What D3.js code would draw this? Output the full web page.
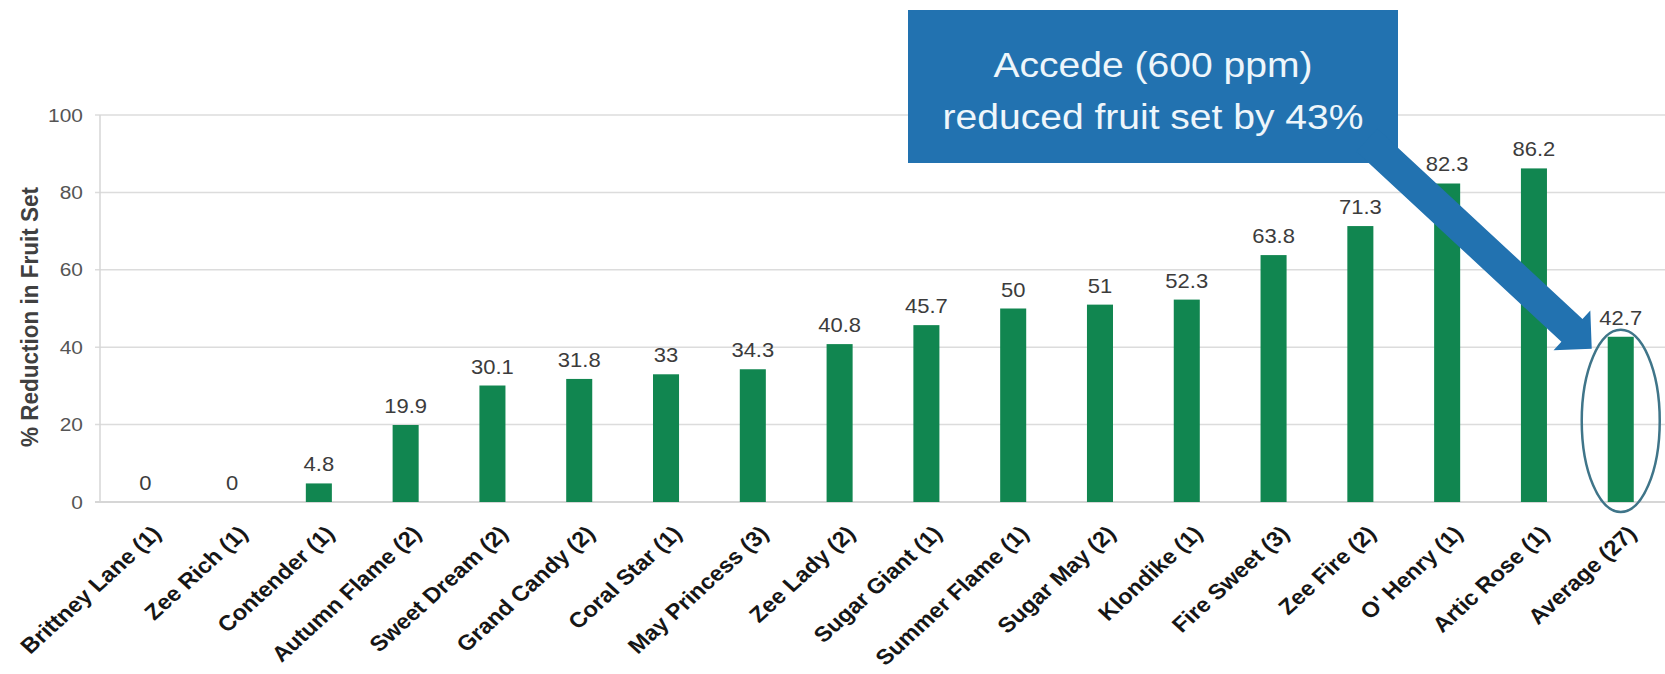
<!DOCTYPE html>
<html>
<head>
<meta charset="utf-8">
<script src="https://cdn.jsdelivr.net/npm/d3@7"></script>
<style>
  html, body { margin: 0; padding: 0; background: #fff; }
  svg { display: block; font-family: "Liberation Sans", Arial, sans-serif; }
</style>
</head>
<body>
<svg id="chart" width="1665" height="674"></svg>
<script>
const varieties = ['Brittney Lane (1)', 'Zee Rich (1)', 'Contender (1)', 'Autumn Flame (2)',
    'Sweet Dream (2)', 'Grand Candy (2)', 'Coral Star (1)', 'May Princess (3)', 'Zee Lady (2)',
    'Sugar Giant (1)', 'Summer Flame (1)', 'Sugar May (2)', 'Klondike (1)', 'Fire Sweet (3)',
    'Zee Fire (2)', "O' Henry (1)", 'Artic Rose (1)', 'Average (27)'];
const reduction = [0, 0, 4.8, 19.9, 30.1, 31.8, 33, 34.3, 40.8, 45.7, 50, 51, 52.3, 63.8, 71.3, 82.3, 86.2, 42.7];
const yTicks = [0, 20, 40, 60, 80, 100];
const yTitle = '% Reduction in Fruit Set';
const noteLines = ['Accede (600 ppm)', 'reduced fruit set by 43%'];

const svg = d3.select('#chart');
const W = 1665;
const SX = 1.1; // the source picture is a bit wider than tall, text looks stretched

const x = d3.scaleBand().domain(varieties).range([101, W]).paddingInner(0.7).paddingOuter(0.36);
const y = d3.scaleLinear().domain([0, 100]).range([502, 115]);

// gridlines + ticks
svg.append('g')
    .selectAll('line')
    .data(yTicks)
    .join('line')
    .attr('x1', 95).attr('x2', W)
    .attr('y1', d => y(d)).attr('y2', d => y(d))
    .attr('stroke', d => d === 0 ? '#c8c8c8' : '#dcdcdc')
    .attr('stroke-width', 1.5);

svg.append('line')
    .attr('x1', 100).attr('x2', 100)
    .attr('y1', y(100)).attr('y2', y(0))
    .attr('stroke', '#d6d6d6').attr('stroke-width', 1.5);

svg.append('g')
    .selectAll('text')
    .data(yTicks)
    .join('text')
    .attr('transform', d => `translate(83,${y(d)}) scale(${SX},1)`)
    .attr('dy', '0.35em')
    .attr('text-anchor', 'end')
    .attr('font-size', 19)
    .attr('fill', '#555')
    .text(d => d);

svg.append('text')
    .attr('transform', `translate(38,317) scale(${SX},1) rotate(-90)`)
    .attr('text-anchor', 'middle')
    .attr('font-size', 22.5)
    .attr('font-weight', 'bold')
    .attr('fill', '#404040')
    .text(yTitle);

// bars
const rows = varieties.map((v, i) => ({name: v, value: reduction[i]}));
svg.append('g')
    .selectAll('rect')
    .data(rows)
    .join('rect')
    .attr('x', d => x(d.name))
    .attr('width', x.bandwidth())
    .attr('y', d => y(d.value))
    .attr('height', d => y(0) - y(d.value))
    .attr('fill', '#118650');

svg.append('g')
    .selectAll('text')
    .data(rows)
    .join('text')
    .attr('transform', d => `translate(${x(d.name) + x.bandwidth() / 2},${y(d.value) - 12}) scale(${SX},1)`)
    .attr('text-anchor', 'middle')
    .attr('font-size', 20)
    .attr('fill', '#3c3c3c')
    .text(d => d.value);

// category labels
svg.append('g')
    .selectAll('text')
    .data(varieties)
    .join('text')
    .attr('transform', d => `translate(${x(d) + x.bandwidth() / 2 + 17},535) scale(${SX},1) rotate(-45)`)
    .attr('text-anchor', 'end')
    .attr('font-size', 21.5)
    .attr('font-weight', 'bold')
    .attr('fill', '#161616')
    .text(d => d);

// callout box
const avg = varieties[varieties.length - 1];
const avgX = x(avg) + x.bandwidth() / 2;
const avgTop = y(reduction[reduction.length - 1]);

svg.append('rect')
    .attr('x', 908).attr('y', 10)
    .attr('width', 490).attr('height', 153)
    .attr('fill', '#2272b0');

svg.append('g')
    .selectAll('text')
    .data(noteLines)
    .join('text')
    .attr('transform', (d, i) => `translate(1153,${77 + i * 52}) scale(${SX},1)`)
    .attr('text-anchor', 'middle')
    .attr('font-size', 35.5)
    .attr('fill', '#eef6fb')
    .text(d => d);

// arrow from box to the average bar
const T = [avgX - 29, avgTop + 12];
const M = [1383, 155]; // where the shaft leaves the box corner
const dx = T[0] - M[0], dy = T[1] - M[1];
const len = Math.hypot(dx, dy);
const ux = dx / len, uy = dy / len;
const nx = -uy, ny = ux;
const S = [M[0] - ux * 22, M[1] - uy * 22];
const shaftW = 31, headW = 54, headL = 27;
const B = [T[0] - ux * headL, T[1] - uy * headL];
const pt = (p, k) => [p[0] + nx * k, p[1] + ny * k];
const arrowPts = [pt(S, shaftW / 2), pt(B, shaftW / 2), pt(B, headW / 2), T,
    pt(B, -headW / 2), pt(B, -shaftW / 2), pt(S, -shaftW / 2)];
svg.append('polygon')
    .attr('points', arrowPts.map(p => p.join(',')).join(' '))
    .attr('fill', '#2272b0');

const eTop = avgTop - 7, eBot = y(0) + 10;
svg.append('ellipse')
    .attr('cx', avgX)
    .attr('cy', (eTop + eBot) / 2)
    .attr('rx', 39)
    .attr('ry', (eBot - eTop) / 2)
    .attr('fill', 'none')
    .attr('stroke', '#3f7589')
    .attr('stroke-width', 2.5);
</script>
</body>
</html>
